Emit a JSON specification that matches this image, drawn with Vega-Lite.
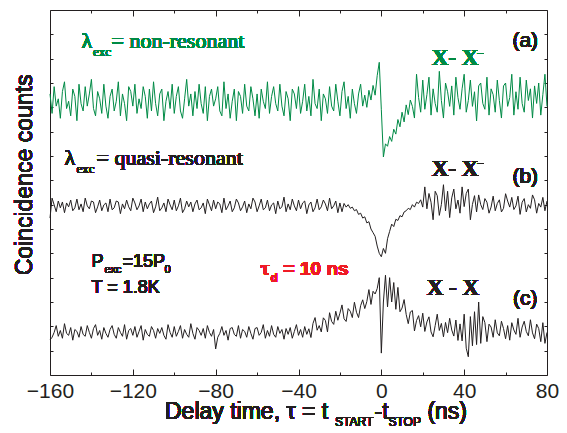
{
"$schema": "https://vega.github.io/schema/vega-lite/v6.json",
"width": 497, "height": 365,
"autosize": {"type": "none"},
"padding": {"left": 50, "top": 10, "right": 20, "bottom": 58},
"config": {"view": {"stroke": "#231f20", "strokeWidth": 1}, "text": {"fontWeight": "normal"}, "axis": {"grid": false, "domain": false, "tickColor": "#231f20", "labelColor": "#231f20", "labelFont": "Liberation Sans", "labelFontSize": 21, "labelFontWeight": "normal", "tickWidth": 1}},
"data": {"values": [
{"t":-160,"a":11.55,"b":6.45,"c":1.44},{"t":-159,"a":10.75,"b":7.27,"c":1.55},{"t":-158,"a":11.85,"b":6.99,"c":1.75},{"t":-157,"a":11.05,"b":6.71,"c":2.03},{"t":-156,"a":11.35,"b":7.15,"c":1.59},{"t":-155,"a":10.55,"b":6.87,"c":1.83},{"t":-154,"a":11.65,"b":7.11,"c":1.51},{"t":-153,"a":12.05,"b":6.67,"c":2.11},{"t":-152,"a":10.95,"b":7.07,"c":1.71},{"t":-151,"a":11.25,"b":6.91,"c":1.63},
{"t":-150,"a":10.65,"b":7.19,"c":1.95},{"t":-149,"a":11.75,"b":6.75,"c":1.43},{"t":-148,"a":11.45,"b":6.87,"c":1.87},{"t":-147,"a":10.45,"b":7.23,"c":1.79},{"t":-146,"a":11.95,"b":6.79,"c":1.55},{"t":-145,"a":11.15,"b":7.03,"c":1.99},{"t":-144,"a":10.85,"b":6.71,"c":1.67},{"t":-143,"a":11.85,"b":7.27,"c":1.59},{"t":-142,"a":11.05,"b":6.95,"c":2.03},{"t":-141,"a":11.55,"b":6.83,"c":1.75},
{"t":-140,"a":12.15,"b":7.15,"c":1.51},{"t":-139,"a":10.95,"b":7.11,"c":1.91},{"t":-138,"a":10.65,"b":6.67,"c":2.07},{"t":-137,"a":11.65,"b":6.91,"c":1.63},{"t":-136,"a":11.35,"b":7.19,"c":1.83},{"t":-135,"a":10.75,"b":6.75,"c":1.47},{"t":-134,"a":11.95,"b":6.99,"c":1.95},{"t":-133,"a":11.05,"b":7.07,"c":1.71},{"t":-132,"a":10.55,"b":6.71,"c":1.55},{"t":-131,"a":11.45,"b":7.23,"c":1.87},
{"t":-130,"a":11.75,"b":6.79,"c":2.03},{"t":-129,"a":10.85,"b":6.87,"c":1.67},{"t":-128,"a":11.25,"b":7.15,"c":1.51},{"t":-127,"a":12.05,"b":7.11,"c":1.95},{"t":-126,"a":10.65,"b":6.63,"c":1.75},{"t":-125,"a":11.55,"b":7.03,"c":1.59},{"t":-124,"a":11.15,"b":6.83,"c":2.07},{"t":-123,"a":10.45,"b":7.19,"c":1.47},{"t":-122,"a":11.85,"b":6.91,"c":1.83},{"t":-121,"a":11.65,"b":6.75,"c":1.91},
{"t":-120,"a":11.05,"b":7.27,"c":1.63},{"t":-119,"a":11.95,"b":7.07,"c":1.99},{"t":-118,"a":10.75,"b":6.79,"c":1.55},{"t":-117,"a":11.35,"b":6.95,"c":1.79},{"t":-116,"a":10.95,"b":7.23,"c":2.03},{"t":-115,"a":11.85,"b":6.71,"c":1.43},{"t":-114,"a":11.45,"b":7.11,"c":1.87},{"t":-113,"a":10.55,"b":6.83,"c":1.67},{"t":-112,"a":11.75,"b":7.03,"c":1.59},{"t":-111,"a":10.85,"b":7.15,"c":1.99},
{"t":-110,"a":12.05,"b":6.67,"c":1.83},{"t":-109,"a":11.15,"b":6.91,"c":1.51},{"t":-108,"a":10.65,"b":7.31,"c":1.91},{"t":-107,"a":11.55,"b":6.75,"c":1.71},{"t":-106,"a":11.75,"b":6.87,"c":1.95},{"t":-105,"a":10.45,"b":7.07,"c":1.63},{"t":-104,"a":11.25,"b":6.71,"c":1.47},{"t":-103,"a":11.65,"b":7.23,"c":2.07},{"t":-102,"a":10.95,"b":6.99,"c":1.75},{"t":-101,"a":11.95,"b":6.79,"c":1.55},
{"t":-100,"a":10.75,"b":7.19,"c":1.99},{"t":-99,"a":11.45,"b":6.75,"c":1.59},{"t":-98,"a":11.85,"b":6.95,"c":1.79},{"t":-97,"a":10.85,"b":7.27,"c":2.03},{"t":-96,"a":10.55,"b":6.67,"c":1.51},{"t":-95,"a":11.35,"b":6.83,"c":1.87},{"t":-94,"a":12.15,"b":7.15,"c":1.67},{"t":-93,"a":11.05,"b":6.91,"c":1.55},{"t":-92,"a":11.55,"b":7.11,"c":2.11},{"t":-91,"a":10.65,"b":6.71,"c":1.71},
{"t":-90,"a":11.65,"b":7.03,"c":1.47},{"t":-89,"a":10.95,"b":7.19,"c":1.95},{"t":-88,"a":11.95,"b":6.79,"c":1.83},{"t":-87,"a":11.15,"b":6.87,"c":1.63},{"t":-86,"a":10.75,"b":7.07,"c":1.91},{"t":-85,"a":11.85,"b":6.63,"c":1.51},{"t":-84,"a":10.45,"b":7.23,"c":2.03},{"t":-83,"a":11.45,"b":6.99,"c":1.75},{"t":-82,"a":11.75,"b":6.75,"c":1.59},{"t":-81,"a":11.05,"b":7.19,"c":1.87},
{"t":-80,"a":11.35,"b":6.83,"c":1.07},{"t":-79,"a":11.85,"b":7.11,"c":1.55},{"t":-78,"a":10.85,"b":7.03,"c":1.71},{"t":-77,"a":10.65,"b":6.67,"c":1.99},{"t":-76,"a":12.05,"b":7.27,"c":1.63},{"t":-75,"a":10.95,"b":6.79,"c":1.83},{"t":-74,"a":11.55,"b":6.95,"c":1.43},{"t":-73,"a":10.55,"b":7.15,"c":1.91},{"t":-72,"a":11.25,"b":6.71,"c":1.95},{"t":-71,"a":11.75,"b":6.87,"c":1.67},
{"t":-70,"a":10.45,"b":7.23,"c":1.59},{"t":-69,"a":11.65,"b":7.07,"c":2.03},{"t":-68,"a":11.45,"b":6.75,"c":1.51},{"t":-67,"a":10.75,"b":6.91,"c":1.87},{"t":-66,"a":11.95,"b":7.15,"c":1.79},{"t":-65,"a":11.05,"b":6.67,"c":1.55},{"t":-64,"a":10.85,"b":7.03,"c":1.99},{"t":-63,"a":11.85,"b":6.83,"c":1.71},{"t":-62,"a":11.35,"b":7.27,"c":1.47},{"t":-61,"a":10.65,"b":7.11,"c":1.91},
{"t":-60,"a":11.55,"b":6.71,"c":1.95},{"t":-59,"a":10.55,"b":6.95,"c":1.63},{"t":-58,"a":11.75,"b":7.23,"c":1.75},{"t":-57,"a":11.25,"b":6.79,"c":2.07},{"t":-56,"a":10.95,"b":6.87,"c":1.51},{"t":-55,"a":12.05,"b":7.19,"c":1.83},{"t":-54,"a":10.75,"b":6.75,"c":1.59},{"t":-53,"a":11.45,"b":6.99,"c":2.03},{"t":-52,"a":11.85,"b":7.07,"c":1.67},{"t":-51,"a":11.15,"b":6.63,"c":1.55},
{"t":-50,"a":10.85,"b":7.15,"c":1.99},{"t":-49,"a":11.95,"b":6.83,"c":1.71},{"t":-48,"a":11.05,"b":6.91,"c":1.87},{"t":-47,"a":10.65,"b":7.31,"c":1.47},{"t":-46,"a":11.65,"b":6.71,"c":1.91},{"t":-45,"a":11.35,"b":7.03,"c":1.67},{"t":-44,"a":10.45,"b":6.79,"c":1.95},{"t":-43,"a":11.75,"b":7.23,"c":1.51},{"t":-42,"a":11.55,"b":6.95,"c":1.79},{"t":-41,"a":10.95,"b":6.75,"c":2.07},
{"t":-40,"a":11.85,"b":7.19,"c":1.63},{"t":-39,"a":10.75,"b":6.83,"c":1.87},{"t":-38,"a":11.25,"b":7.07,"c":1.55},{"t":-37,"a":11.95,"b":7.15,"c":1.99},{"t":-36,"a":10.85,"b":6.63,"c":1.67},{"t":-35,"a":11.45,"b":6.99,"c":1.9},{"t":-34,"a":10.65,"b":7.11,"c":1.54},{"t":-33,"a":12.15,"b":6.71,"c":2.12},{"t":-32,"a":11.15,"b":6.87,"c":2.36},{"t":-31,"a":10.95,"b":7.23,"c":1.84},
{"t":-30,"a":11.75,"b":6.79,"c":2.03},{"t":-29,"a":10.45,"b":6.91,"c":1.77},{"t":-28,"a":11.55,"b":7.19,"c":2.35},{"t":-27,"a":11.35,"b":7.03,"c":2.24},{"t":-26,"a":10.75,"b":6.75,"c":1.77},{"t":-25,"a":11.85,"b":7.27,"c":2.56},{"t":-24,"a":11.05,"b":6.83,"c":2.2},{"t":-23,"a":10.85,"b":6.95,"c":2.08},{"t":-22,"a":11.95,"b":7.15,"c":2.62},{"t":-21,"a":11.25,"b":6.67,"c":2.25},
{"t":-20,"a":10.65,"b":7.07,"c":2.54},{"t":-19,"a":11.65,"b":6.71,"c":2.88},{"t":-18,"a":12.05,"b":7.05,"c":2.31},{"t":-17,"a":10.95,"b":6.9,"c":2.2},{"t":-16,"a":11.45,"b":7.0,"c":2.73},{"t":-15,"a":10.55,"b":6.85,"c":2.62},{"t":-14,"a":11.75,"b":6.9,"c":2.36},{"t":-13,"a":11.15,"b":6.75,"c":2.99},{"t":-12,"a":10.75,"b":6.8,"c":2.58},{"t":-11,"a":11.55,"b":6.6,"c":2.36},
{"t":-10,"a":11.95,"b":6.65,"c":2.85},{"t":-9,"a":11.05,"b":6.45,"c":3.09},{"t":-8,"a":11.5,"b":6.5,"c":2.73},{"t":-7,"a":11.0,"b":6.25,"c":3.02},{"t":-6,"a":11.7,"b":6.3,"c":3.51},{"t":-5,"a":11.3,"b":6.0,"c":2.9},{"t":-4,"a":11.9,"b":5.85,"c":3.44},{"t":-3,"a":11.5,"b":5.7,"c":3.33},{"t":-2,"a":12.3,"b":5.3,"c":3.55},{"t":-1,"a":12.85,"b":5.0,"c":4.0},
{"t":0,"a":10.9,"b":4.86,"c":0.9},{"t":1,"a":8.96,"b":5.2,"c":3.0},{"t":2,"a":9.5,"b":5.0,"c":4.1},{"t":3,"a":9.4,"b":5.6,"c":2.8},{"t":4,"a":9.8,"b":5.9,"c":4.0},{"t":5,"a":9.6,"b":6.2,"c":3.0},{"t":6,"a":10.1,"b":6.1,"c":3.8},{"t":7,"a":9.9,"b":6.4,"c":2.7},{"t":8,"a":10.5,"b":6.35,"c":3.6},{"t":9,"a":10.2,"b":6.55,"c":2.6},
{"t":10,"a":10.8,"b":6.5,"c":2.75},{"t":11,"a":10.4,"b":6.7,"c":3.1},{"t":12,"a":11.1,"b":6.75,"c":2.49},{"t":13,"a":10.7,"b":6.85,"c":2.11},{"t":14,"a":11.3,"b":6.8,"c":2.59},{"t":15,"a":11.04,"b":7.0,"c":2.65},{"t":16,"a":10.56,"b":6.9,"c":1.81},{"t":17,"a":12.36,"b":7.1,"c":2.24},{"t":18,"a":11.4,"b":7.05,"c":2.44},{"t":19,"a":10.8,"b":7.2,"c":1.98},
{"t":20,"a":12.12,"b":6.9,"c":2.54},{"t":21,"a":10.92,"b":7.73,"c":1.79},{"t":22,"a":11.52,"b":6.83,"c":2.18},{"t":23,"a":12.24,"b":7.46,"c":2.39},{"t":24,"a":10.68,"b":7.1,"c":1.77},{"t":25,"a":11.76,"b":6.38,"c":1.57},{"t":26,"a":11.16,"b":7.55,"c":2.03},{"t":27,"a":10.8,"b":7.37,"c":2.5},{"t":28,"a":12.48,"b":6.56,"c":1.83},{"t":29,"a":11.28,"b":7.01,"c":2.12},
{"t":30,"a":10.56,"b":7.82,"c":1.57},{"t":31,"a":12.0,"b":6.74,"c":2.16},{"t":32,"a":11.64,"b":7.55,"c":1.74},{"t":33,"a":11.04,"b":6.47,"c":2.33},{"t":34,"a":11.88,"b":7.28,"c":1.85},{"t":35,"a":10.68,"b":7.64,"c":1.6},{"t":36,"a":12.24,"b":6.83,"c":2.26},{"t":37,"a":11.4,"b":7.19,"c":1.42},{"t":38,"a":10.92,"b":6.65,"c":2.1},{"t":39,"a":11.76,"b":7.73,"c":1.4},
{"t":40,"a":12.36,"b":6.92,"c":2.5},{"t":41,"a":10.8,"b":7.46,"c":1.1},{"t":42,"a":11.28,"b":7.64,"c":0.75},{"t":43,"a":12.12,"b":6.38,"c":2.4},{"t":44,"a":11.04,"b":7.01,"c":1.2},{"t":45,"a":11.64,"b":7.37,"c":2.6},{"t":46,"a":10.44,"b":6.7,"c":1.25},{"t":47,"a":11.88,"b":7.4,"c":3.0},{"t":48,"a":12.0,"b":7.0,"c":1.3},{"t":49,"a":11.16,"b":6.8,"c":2.4},
{"t":50,"a":10.92,"b":7.25,"c":2.15},{"t":51,"a":12.24,"b":7.1,"c":1.37},{"t":52,"a":10.68,"b":6.65,"c":2.09},{"t":53,"a":11.76,"b":6.9,"c":1.97},{"t":54,"a":11.52,"b":7.35,"c":1.55},{"t":55,"a":10.8,"b":6.75,"c":2.27},{"t":56,"a":12.12,"b":7.05,"c":1.73},{"t":57,"a":11.28,"b":7.2,"c":1.61},{"t":58,"a":10.56,"b":6.7,"c":2.21},{"t":59,"a":11.88,"b":6.85,"c":1.91},
{"t":60,"a":12.0,"b":7.45,"c":1.49},{"t":61,"a":11.04,"b":7.15,"c":2.03},{"t":62,"a":11.4,"b":6.9,"c":1.43},{"t":63,"a":12.36,"b":7.3,"c":2.15},{"t":64,"a":10.68,"b":6.8,"c":1.85},{"t":65,"a":11.64,"b":6.95,"c":1.67},{"t":66,"a":10.92,"b":7.35,"c":2.33},{"t":67,"a":12.24,"b":6.6,"c":1.55},{"t":68,"a":11.16,"b":7.1,"c":1.97},{"t":69,"a":10.8,"b":7.25,"c":2.21},
{"t":70,"a":12.12,"b":6.7,"c":1.79},{"t":71,"a":11.28,"b":7.0,"c":1.61},{"t":72,"a":11.76,"b":6.85,"c":2.27},{"t":73,"a":10.56,"b":7.4,"c":1.73},{"t":74,"a":11.88,"b":7.2,"c":1.49},{"t":75,"a":11.16,"b":6.65,"c":2.09},{"t":76,"a":12.0,"b":7.05,"c":1.91},{"t":77,"a":10.68,"b":6.9,"c":1.37},{"t":78,"a":11.52,"b":7.3,"c":2.15},{"t":79,"a":12.36,"b":6.75,"c":1.3},
{"t":80,"a":11.04,"b":7.15,"c":1.75}
]},
"resolve": {"axis": {"x": "independent", "y": "independent"}},
"layer": [
{"transform": [{"fold": ["a","b","c"], "as": ["k","v"]}],
 "mark": {"type": "line", "strokeWidth": 1, "interpolate": "linear"},
 "encoding": {
  "x": {"field": "t", "type": "quantitative", "scale": {"domain": [-160, 80], "nice": false, "zero": false}, "axis": {"orient": "bottom", "values": [-160,-120,-80,-40,0,40,80], "ticks": false, "labelPadding": 5, "title": null, "labelFlush": false}},
  "y": {"field": "v", "type": "quantitative", "scale": {"domain": [0, 15], "nice": false, "zero": false}, "axis": {"orient": "left", "values": [1,2,3,4,5,6,7,8,9,10,11,12,13,14], "labels": false, "tickSize": -3, "title": null}},
  "color": {"field": "k", "type": "nominal", "scale": {"domain": ["a","b","c"], "range": ["#008a45","#231f20","#231f20"]}, "legend": null},
  "detail": {"field": "k"}
 }},
{"mark": {"type": "line", "opacity": 0},
 "encoding": {
  "x": {"field": "t", "type": "quantitative", "scale": {"domain": [-160, 80], "nice": false, "zero": false}, "axis": {"orient": "bottom", "values": [-160,-120,-80,-40,0,40,80], "labels": false, "tickSize": -6, "title": null}},
  "y": {"field": "a", "type": "quantitative", "scale": {"domain": [0, 15], "nice": false, "zero": false}, "axis": {"orient": "right", "values": [1,2,3,4,5,6,7,8,9,10,11,12,13,14], "labels": false, "tickSize": -3, "title": null}}
 }},
{"mark": {"type": "line", "opacity": 0},
 "encoding": {
  "x": {"field": "t", "type": "quantitative", "scale": {"domain": [-160, 80], "nice": false, "zero": false}, "axis": {"orient": "bottom", "values": [-140,-100,-60,-20,20,60], "labels": false, "tickSize": -3, "title": null}},
  "y": {"field": "a", "type": "quantitative", "scale": {"domain": [0, 15], "nice": false, "zero": false}, "axis": null}
 }},
{"mark": {"type": "line", "opacity": 0},
 "encoding": {
  "x": {"field": "t", "type": "quantitative", "scale": {"domain": [-160, 80], "nice": false, "zero": false}, "axis": {"orient": "top", "values": [-160,-120,-80,-40,0,40,80], "labels": false, "tickSize": -6, "title": null}},
  "y": {"field": "a", "type": "quantitative", "scale": {"domain": [0, 15], "nice": false, "zero": false}, "axis": null}
 }},
{"mark": {"type": "line", "opacity": 0},
 "encoding": {
  "x": {"field": "t", "type": "quantitative", "scale": {"domain": [-160, 80], "nice": false, "zero": false}, "axis": {"orient": "top", "values": [-140,-100,-60,-20,20,60], "labels": false, "tickSize": -3, "title": null}},
  "y": {"field": "a", "type": "quantitative", "scale": {"domain": [0, 15], "nice": false, "zero": false}, "axis": null}
 }},
{"mark": {"type": "text", "text": "λ", "font": "Liberation Serif", "fontSize": 22, "fontWeight": "normal", "fill": "#008a45", "align": "left", "baseline": "alphabetic"},
 "encoding": {"x": {"datum": -144.8, "type": "quantitative", "axis": null, "scale": {"domain": [-160, 80], "nice": false, "zero": false}}, "y": {"datum": 13.44, "type": "quantitative", "axis": null, "scale": {"domain": [0, 15], "nice": false, "zero": false}}}},
{"mark": {"type": "text", "text": "exc", "font": "Liberation Serif", "fontSize": 13, "fontWeight": "normal", "fill": "#008a45", "align": "left", "baseline": "alphabetic"},
 "encoding": {"x": {"datum": -139.2, "type": "quantitative", "axis": null, "scale": {"domain": [-160, 80], "nice": false, "zero": false}}, "y": {"datum": 13.1, "type": "quantitative", "axis": null, "scale": {"domain": [0, 15], "nice": false, "zero": false}}}},
{"mark": {"type": "text", "text": "= non-resonant", "font": "Liberation Serif", "fontSize": 22, "fontWeight": "normal", "fill": "#008a45", "align": "left", "baseline": "alphabetic"},
 "encoding": {"x": {"datum": -130.3, "type": "quantitative", "axis": null, "scale": {"domain": [-160, 80], "nice": false, "zero": false}}, "y": {"datum": 13.44, "type": "quantitative", "axis": null, "scale": {"domain": [0, 15], "nice": false, "zero": false}}}},
{"mark": {"type": "text", "text": "(a)", "font": "Liberation Sans", "fontSize": 21, "fontWeight": "normal", "fill": "#231f20", "align": "center", "baseline": "alphabetic"},
 "encoding": {"x": {"datum": 69.5, "type": "quantitative", "axis": null, "scale": {"domain": [-160, 80], "nice": false, "zero": false}}, "y": {"datum": 13.5, "type": "quantitative", "axis": null, "scale": {"domain": [0, 15], "nice": false, "zero": false}}}},
{"mark": {"type": "text", "text": "X- X", "font": "Liberation Serif", "fontSize": 23, "fontWeight": "bold", "fill": "#008a45", "align": "left", "baseline": "alphabetic"},
 "encoding": {"x": {"datum": 24.3, "type": "quantitative", "axis": null, "scale": {"domain": [-160, 80], "nice": false, "zero": false}}, "y": {"datum": 12.74, "type": "quantitative", "axis": null, "scale": {"domain": [0, 15], "nice": false, "zero": false}}}},
{"mark": {"type": "text", "text": "−", "font": "Liberation Serif", "fontSize": 13, "fontWeight": "normal", "fill": "#008a45", "align": "left", "baseline": "alphabetic"},
 "encoding": {"x": {"datum": 46.0, "type": "quantitative", "axis": null, "scale": {"domain": [-160, 80], "nice": false, "zero": false}}, "y": {"datum": 13.03, "type": "quantitative", "axis": null, "scale": {"domain": [0, 15], "nice": false, "zero": false}}}},
{"mark": {"type": "text", "text": "λ", "font": "Liberation Serif", "fontSize": 22, "fontWeight": "normal", "fill": "#231f20", "align": "left", "baseline": "alphabetic"},
 "encoding": {"x": {"datum": -153.0, "type": "quantitative", "axis": null, "scale": {"domain": [-160, 80], "nice": false, "zero": false}}, "y": {"datum": 8.63, "type": "quantitative", "axis": null, "scale": {"domain": [0, 15], "nice": false, "zero": false}}}},
{"mark": {"type": "text", "text": "exc", "font": "Liberation Serif", "fontSize": 13, "fontWeight": "normal", "fill": "#231f20", "align": "left", "baseline": "alphabetic"},
 "encoding": {"x": {"datum": -147.2, "type": "quantitative", "axis": null, "scale": {"domain": [-160, 80], "nice": false, "zero": false}}, "y": {"datum": 8.3, "type": "quantitative", "axis": null, "scale": {"domain": [0, 15], "nice": false, "zero": false}}}},
{"mark": {"type": "text", "text": "= quasi-resonant", "font": "Liberation Serif", "fontSize": 22, "fontWeight": "normal", "fill": "#231f20", "align": "left", "baseline": "alphabetic"},
 "encoding": {"x": {"datum": -137.5, "type": "quantitative", "axis": null, "scale": {"domain": [-160, 80], "nice": false, "zero": false}}, "y": {"datum": 8.63, "type": "quantitative", "axis": null, "scale": {"domain": [0, 15], "nice": false, "zero": false}}}},
{"mark": {"type": "text", "text": "X- X", "font": "Liberation Serif", "fontSize": 23, "fontWeight": "bold", "fill": "#231f20", "align": "left", "baseline": "alphabetic"},
 "encoding": {"x": {"datum": 24.3, "type": "quantitative", "axis": null, "scale": {"domain": [-160, 80], "nice": false, "zero": false}}, "y": {"datum": 8.18, "type": "quantitative", "axis": null, "scale": {"domain": [0, 15], "nice": false, "zero": false}}}},
{"mark": {"type": "text", "text": "−", "font": "Liberation Serif", "fontSize": 13, "fontWeight": "normal", "fill": "#231f20", "align": "left", "baseline": "alphabetic"},
 "encoding": {"x": {"datum": 46.0, "type": "quantitative", "axis": null, "scale": {"domain": [-160, 80], "nice": false, "zero": false}}, "y": {"datum": 8.5, "type": "quantitative", "axis": null, "scale": {"domain": [0, 15], "nice": false, "zero": false}}}},
{"mark": {"type": "text", "text": "(b)", "font": "Liberation Sans", "fontSize": 21, "fontWeight": "normal", "fill": "#231f20", "align": "center", "baseline": "alphabetic"},
 "encoding": {"x": {"datum": 69.5, "type": "quantitative", "axis": null, "scale": {"domain": [-160, 80], "nice": false, "zero": false}}, "y": {"datum": 7.89, "type": "quantitative", "axis": null, "scale": {"domain": [0, 15], "nice": false, "zero": false}}}},
{"mark": {"type": "text", "text": "P", "font": "Liberation Sans", "fontSize": 18, "fontWeight": "normal", "fill": "#231f20", "align": "left", "baseline": "alphabetic"},
 "encoding": {"x": {"datum": -139.95, "type": "quantitative", "axis": null, "scale": {"domain": [-160, 80], "nice": false, "zero": false}}, "y": {"datum": 4.44, "type": "quantitative", "axis": null, "scale": {"domain": [0, 15], "nice": false, "zero": false}}}},
{"mark": {"type": "text", "text": "exc", "font": "Liberation Sans", "fontSize": 11, "fontWeight": "normal", "fill": "#231f20", "align": "left", "baseline": "alphabetic"},
 "encoding": {"x": {"datum": -133.7, "type": "quantitative", "axis": null, "scale": {"domain": [-160, 80], "nice": false, "zero": false}}, "y": {"datum": 4.19, "type": "quantitative", "axis": null, "scale": {"domain": [0, 15], "nice": false, "zero": false}}}},
{"mark": {"type": "text", "text": "=15P", "font": "Liberation Sans", "fontSize": 18, "fontWeight": "normal", "fill": "#231f20", "align": "left", "baseline": "alphabetic"},
 "encoding": {"x": {"datum": -125.0, "type": "quantitative", "axis": null, "scale": {"domain": [-160, 80], "nice": false, "zero": false}}, "y": {"datum": 4.44, "type": "quantitative", "axis": null, "scale": {"domain": [0, 15], "nice": false, "zero": false}}}},
{"mark": {"type": "text", "text": "0", "font": "Liberation Sans", "fontSize": 11, "fontWeight": "normal", "fill": "#231f20", "align": "left", "baseline": "alphabetic"},
 "encoding": {"x": {"datum": -104.7, "type": "quantitative", "axis": null, "scale": {"domain": [-160, 80], "nice": false, "zero": false}}, "y": {"datum": 4.19, "type": "quantitative", "axis": null, "scale": {"domain": [0, 15], "nice": false, "zero": false}}}},
{"mark": {"type": "text", "text": "T = 1.8K", "font": "Liberation Sans", "fontSize": 18, "fontWeight": "normal", "fill": "#231f20", "align": "left", "baseline": "alphabetic"},
 "encoding": {"x": {"datum": -139.95, "type": "quantitative", "axis": null, "scale": {"domain": [-160, 80], "nice": false, "zero": false}}, "y": {"datum": 3.37, "type": "quantitative", "axis": null, "scale": {"domain": [0, 15], "nice": false, "zero": false}}}},
{"mark": {"type": "text", "text": "τ", "font": "Liberation Serif", "fontSize": 20, "fontWeight": "bold", "fill": "#ee1c25", "align": "left", "baseline": "alphabetic"},
 "encoding": {"x": {"datum": -58.3, "type": "quantitative", "axis": null, "scale": {"domain": [-160, 80], "nice": false, "zero": false}}, "y": {"datum": 4.11, "type": "quantitative", "axis": null, "scale": {"domain": [0, 15], "nice": false, "zero": false}}}},
{"mark": {"type": "text", "text": "d", "font": "Liberation Sans", "fontSize": 12, "fontWeight": "bold", "fill": "#ee1c25", "align": "left", "baseline": "alphabetic"},
 "encoding": {"x": {"datum": -53.5, "type": "quantitative", "axis": null, "scale": {"domain": [-160, 80], "nice": false, "zero": false}}, "y": {"datum": 3.82, "type": "quantitative", "axis": null, "scale": {"domain": [0, 15], "nice": false, "zero": false}}}},
{"mark": {"type": "text", "text": "= 10 ns", "font": "Liberation Sans", "fontSize": 19, "fontWeight": "bold", "fill": "#ee1c25", "align": "left", "baseline": "alphabetic"},
 "encoding": {"x": {"datum": -47.2, "type": "quantitative", "axis": null, "scale": {"domain": [-160, 80], "nice": false, "zero": false}}, "y": {"datum": 4.11, "type": "quantitative", "axis": null, "scale": {"domain": [0, 15], "nice": false, "zero": false}}}},
{"mark": {"type": "text", "text": "X - X", "font": "Liberation Serif", "fontSize": 23, "fontWeight": "bold", "fill": "#231f20", "align": "left", "baseline": "alphabetic"},
 "encoding": {"x": {"datum": 21.9, "type": "quantitative", "axis": null, "scale": {"domain": [-160, 80], "nice": false, "zero": false}}, "y": {"datum": 3.29, "type": "quantitative", "axis": null, "scale": {"domain": [0, 15], "nice": false, "zero": false}}}},
{"mark": {"type": "text", "text": "(c)", "font": "Liberation Sans", "fontSize": 21, "fontWeight": "normal", "fill": "#231f20", "align": "center", "baseline": "alphabetic"},
 "encoding": {"x": {"datum": 69.5, "type": "quantitative", "axis": null, "scale": {"domain": [-160, 80], "nice": false, "zero": false}}, "y": {"datum": 2.88, "type": "quantitative", "axis": null, "scale": {"domain": [0, 15], "nice": false, "zero": false}}}},
{"mark": {"type": "text", "text": "Coincidence counts", "font": "Liberation Sans", "fontSize": 23, "fontWeight": "normal", "fill": "#231f20", "align": "center", "baseline": "middle", "angle": 270},
 "encoding": {"x": {"datum": -172.3, "type": "quantitative", "axis": null, "scale": {"domain": [-160, 80], "nice": false, "zero": false}}, "y": {"datum": 8.22, "type": "quantitative", "axis": null, "scale": {"domain": [0, 15], "nice": false, "zero": false}}}},
{"mark": {"type": "text", "text": "Delay time, τ = t", "font": "Liberation Sans", "fontSize": 23, "fontWeight": "normal", "fill": "#231f20", "align": "left", "baseline": "alphabetic"},
 "encoding": {"x": {"datum": -104.47, "type": "quantitative", "axis": null, "scale": {"domain": [-160, 80], "nice": false, "zero": false}}, "y": {"datum": -1.81, "type": "quantitative", "axis": null, "scale": {"domain": [0, 15], "nice": false, "zero": false}}}},
{"mark": {"type": "text", "text": "START", "font": "Liberation Sans", "fontSize": 12, "fontWeight": "normal", "fill": "#231f20", "align": "left", "baseline": "alphabetic"},
 "encoding": {"x": {"datum": -22.37, "type": "quantitative", "axis": null, "scale": {"domain": [-160, 80], "nice": false, "zero": false}}, "y": {"datum": -2.1, "type": "quantitative", "axis": null, "scale": {"domain": [0, 15], "nice": false, "zero": false}}}},
{"mark": {"type": "text", "text": "-t", "font": "Liberation Sans", "fontSize": 23, "fontWeight": "normal", "fill": "#231f20", "align": "left", "baseline": "alphabetic"},
 "encoding": {"x": {"datum": -3.3, "type": "quantitative", "axis": null, "scale": {"domain": [-160, 80], "nice": false, "zero": false}}, "y": {"datum": -1.81, "type": "quantitative", "axis": null, "scale": {"domain": [0, 15], "nice": false, "zero": false}}}},
{"mark": {"type": "text", "text": "STOP", "font": "Liberation Sans", "fontSize": 12, "fontWeight": "normal", "fill": "#231f20", "align": "left", "baseline": "alphabetic"},
 "encoding": {"x": {"datum": 3.46, "type": "quantitative", "axis": null, "scale": {"domain": [-160, 80], "nice": false, "zero": false}}, "y": {"datum": -2.1, "type": "quantitative", "axis": null, "scale": {"domain": [0, 15], "nice": false, "zero": false}}}},
{"mark": {"type": "text", "text": "(ns)", "font": "Liberation Sans", "fontSize": 23, "fontWeight": "normal", "fill": "#231f20", "align": "left", "baseline": "alphabetic"},
 "encoding": {"x": {"datum": 22.25, "type": "quantitative", "axis": null, "scale": {"domain": [-160, 80], "nice": false, "zero": false}}, "y": {"datum": -1.81, "type": "quantitative", "axis": null, "scale": {"domain": [0, 15], "nice": false, "zero": false}}}}
]
}
